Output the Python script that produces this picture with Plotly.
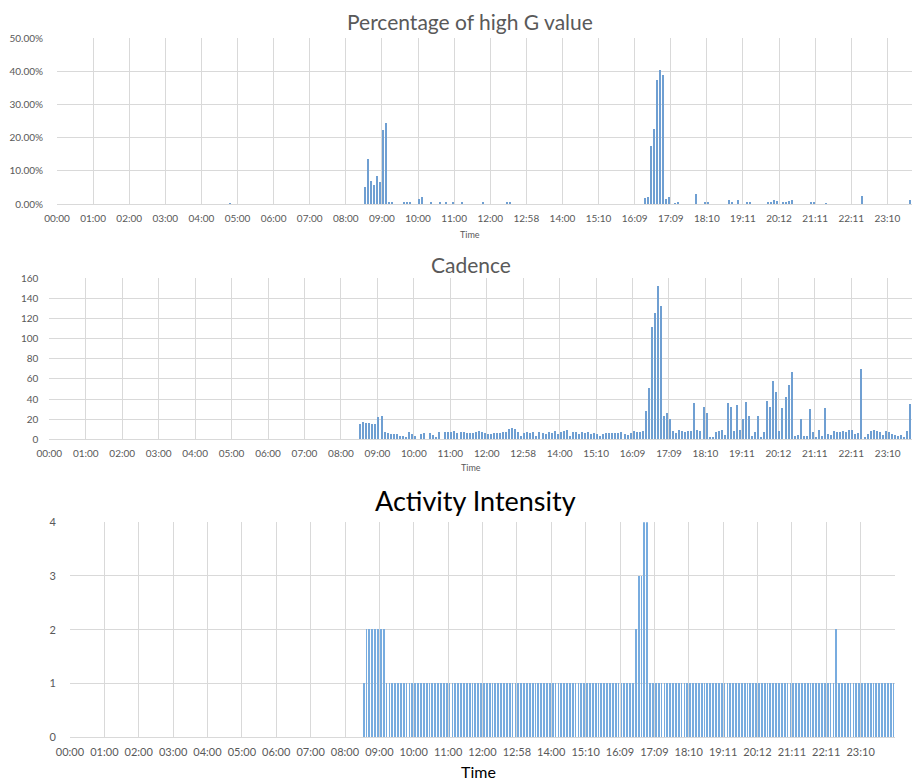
import plotly.graph_objects as go

W, H = 912, 781

# ---- category tick labels (one every 12 samples) ----
tick_labels = ["00:00", "01:00", "02:00", "03:00", "04:00", "05:00", "06:00", "07:00",
               "08:00", "09:00", "10:00", "11:00", "12:00", "12:58", "14:00", "15:10",
               "16:09", "17:09", "18:10", "19:11", "20:12", "21:11", "22:11", "23:10"]
N_SAMPLES = 288
PER_TICK = 12

# ---- Percentage of high G value (fraction), non-zero samples only ----
high_g_nonzero = {
    57: 0.002,
    102: 0.050, 103: 0.134, 104: 0.069, 105: 0.055, 106: 0.084, 107: 0.065, 108: 0.222, 109: 0.243,
    110: 0.003, 111: 0.003, 115: 0.003, 116: 0.005, 117: 0.003, 120: 0.013, 121: 0.019,
    124: 0.005, 127: 0.006, 129: 0.004, 131: 0.003, 134: 0.003, 141: 0.003, 149: 0.003, 150: 0.003,
    195: 0.018, 196: 0.021, 197: 0.175, 198: 0.226, 199: 0.374, 200: 0.404, 201: 0.387,
    202: 0.014, 203: 0.021, 205: 0.002, 206: 0.003, 212: 0.028, 215: 0.005, 216: 0.005,
    223: 0.012, 224: 0.004, 226: 0.010, 229: 0.004, 230: 0.003,
    236: 0.004, 237: 0.005, 238: 0.012, 239: 0.008, 241: 0.005, 242: 0.005, 243: 0.008, 244: 0.012,
    250: 0.003, 251: 0.003, 255: 0.002, 267: 0.024, 283: 0.010,
}

# ---- Cadence ----
cadence_night = [0] * 102                      # samples 0..101
cadence_morning = [15, 17, 16, 16, 15, 15, 22, 23]  # samples 102..109
cadence_day = [7, 6, 5, 5, 5, 3, 3, 2, 7, 5, 3, 0, 5, 6, 0, 6, 4, 2, 7, 0,
               7, 7, 7, 8, 6, 7, 7, 6, 6, 6, 7, 8, 7, 6, 5, 5, 6, 6, 6, 7,
               7, 10, 11, 10, 7, 3, 6, 7, 6, 7, 3, 7, 6, 5, 7, 6, 8, 5, 7, 8,
               9, 3, 7, 7, 5, 7, 6, 7, 5, 6, 5, 3, 5, 6, 6, 6, 6, 6]   # 110..187
cadence_evening = [7, 5, 4, 6, 8, 7, 7, 8, 28, 51, 111, 125, 152, 132, 23, 26, 20, 8, 6, 9,
                   8, 7, 8, 8, 36, 9, 8, 32, 26, 2, 2, 7, 8, 9, 4, 36, 32, 8, 34, 9,
                   20, 37, 23, 3, 7, 23, 1, 7, 38, 32, 58, 47, 8, 31, 42, 54, 67, 3, 4, 20,
                   3, 3, 30, 7, 2, 9, 3, 31, 5, 4, 8, 7, 7, 8, 7, 9, 9, 5, 6, 70,
                   1, 5, 8, 9, 8, 7, 4, 8, 7, 5, 4, 3, 4, 2, 8, 35, 17, 8, 6, 7]  # 188..287

# ---- Activity Intensity ----
intensity = ([0] * 102 + [1] + [2] * 7 + [1] * 87 + [2] + [3, 3] + [4, 4]
             + [1] * 65 + [2] + [1] * 20)

high_g = [high_g_nonzero.get(i, 0) for i in range(N_SAMPLES)]
cadence = cadence_night + cadence_morning + cadence_day + cadence_evening
samples = list(range(N_SAMPLES))
tick_pos = [k * PER_TICK - 0.5 for k in range(len(tick_labels))]

GRID = "#d9d9d9"
TXT = "#595959"
BAR = "#6f9fd2"
FONT = "Lato"

fig = go.Figure()
fig.add_trace(go.Bar(x=samples, y=high_g, width=0.4, marker=dict(color=BAR, line=dict(width=0)),
                     xaxis="x", yaxis="y"))
fig.add_trace(go.Bar(x=samples, y=cadence, width=0.4, marker=dict(color=BAR, line=dict(width=0)),
                     xaxis="x2", yaxis="y2"))
fig.add_trace(go.Bar(x=samples, y=intensity, width=0.28, marker=dict(color="#78acdf", line=dict(width=0)),
                     xaxis="x3", yaxis="y3"))


def xax(dom, rng, anchor, size):
    return dict(domain=dom, range=rng, anchor=anchor, tickmode="array", tickvals=tick_pos,
                ticktext=tick_labels, tickangle=0, showgrid=True, gridcolor=GRID, gridwidth=1,
                showline=True, linecolor=GRID, linewidth=1, zeroline=False, automargin=False,
                ticks="outside", ticklen=5, tickcolor="rgba(0,0,0,0)",
                tickfont=dict(family=FONT, size=size, color=TXT), fixedrange=True)


def yax(dom, rng, dtick, anchor, size, fmt=None, ticklen=8):
    d = dict(domain=dom, range=rng, dtick=dtick, anchor=anchor, showgrid=True, gridcolor=GRID,
             gridwidth=1, zeroline=False, showline=False, ticks="outside", ticklen=ticklen,
             tickcolor="rgba(0,0,0,0)", tickfont=dict(family=FONT, size=size, color=TXT),
             fixedrange=True, automargin=False)
    if fmt:
        d["tickformat"] = fmt
    return d


fig.update_layout(
    width=W, height=H, margin=dict(l=0, r=0, t=0, b=0, autoexpand=False),
    paper_bgcolor="white", plot_bgcolor="white", showlegend=False, bargap=0,
    xaxis=xax([57 / W, 1.0], [-0.5, 283.7], "y", 10),
    yaxis=yax([1 - 204 / H, 1 - 38.3 / H], [0, 0.5], 0.1, "x", 10, ".2%", 11),
    xaxis2=xax([49.3 / W, 1.0], [-0.5, 283.5], "y2", 10),
    yaxis2=yax([1 - 439.3 / H, 1 - 278.3 / H], [0, 160], 20, "x2", 10, None, 8),
    xaxis3=xax([70 / W, 895 / W], [-0.5, 287.5], "y3", 11),
    yaxis3=yax([1 - 737 / H, 1 - 522.3 / H], [0, 4], 1, "x3", 11, None, 11),
)

annotations = [
    dict(text="Percentage of high G value", x=470, y=22, size=21, color=TXT),
    dict(text="Time", x=470, y=235, size=9, color=TXT),
    dict(text="Cadence", x=471, y=264, size=21, color=TXT),
    dict(text="Time", x=471, y=467, size=9, color=TXT),
    dict(text="Activity Intensity", x=475, y=500, size=27, color="black"),
    dict(text="Time", x=478, y=771, size=16, color="black"),
]
for a in annotations:
    fig.add_annotation(text=a["text"], x=a["x"] / W, y=1 - a["y"] / H, xref="paper", yref="paper",
                       xanchor="center", yanchor="middle", showarrow=False,
                       font=dict(family=FONT, size=a["size"], color=a["color"]))

fig.write_html("out.html", config={"displayModeBar": False},
               post_script="document.body.style.margin='0';document.body.style.overflow='hidden';")
